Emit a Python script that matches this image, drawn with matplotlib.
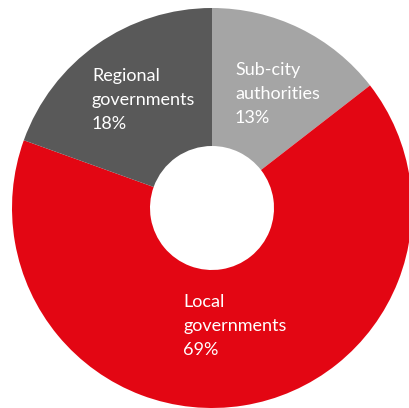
import matplotlib.pyplot as plt

labels = ['Sub-city\nauthorities', 'Local\ngovernments', 'Regional\ngovernments']
pct_text = ['13%', '69%', '18%']
# slice sizes as drawn in the picture
shares = [14.5, 66, 19.5]
colors = ['#a5a5a5', '#e30613', '#595959']

# label anchor points (pixels from top-left)
label_pos = [(235, 62), (183, 294), (92, 68)]

fig = plt.figure(figsize=(4.09, 4.08), dpi=100)
ax = fig.add_axes([0, 0, 1, 1])

ax.pie(shares, colors=colors, startangle=90, counterclock=False,
       center=(212, 200), radius=200,
       wedgeprops=dict(width=138, edgecolor='none'))

for lab, pct, (x, y) in zip(labels, pct_text, label_pos):
    ax.text(x, 408 - y, f'{lab}\n{pct}', color='white', fontsize=13,
            family='Lato', ha='left', va='top', linespacing=1.6)

ax.set_xlim(0, 409)
ax.set_ylim(0, 408)
ax.axis('off')
fig.savefig('out.png', dpi=100)
